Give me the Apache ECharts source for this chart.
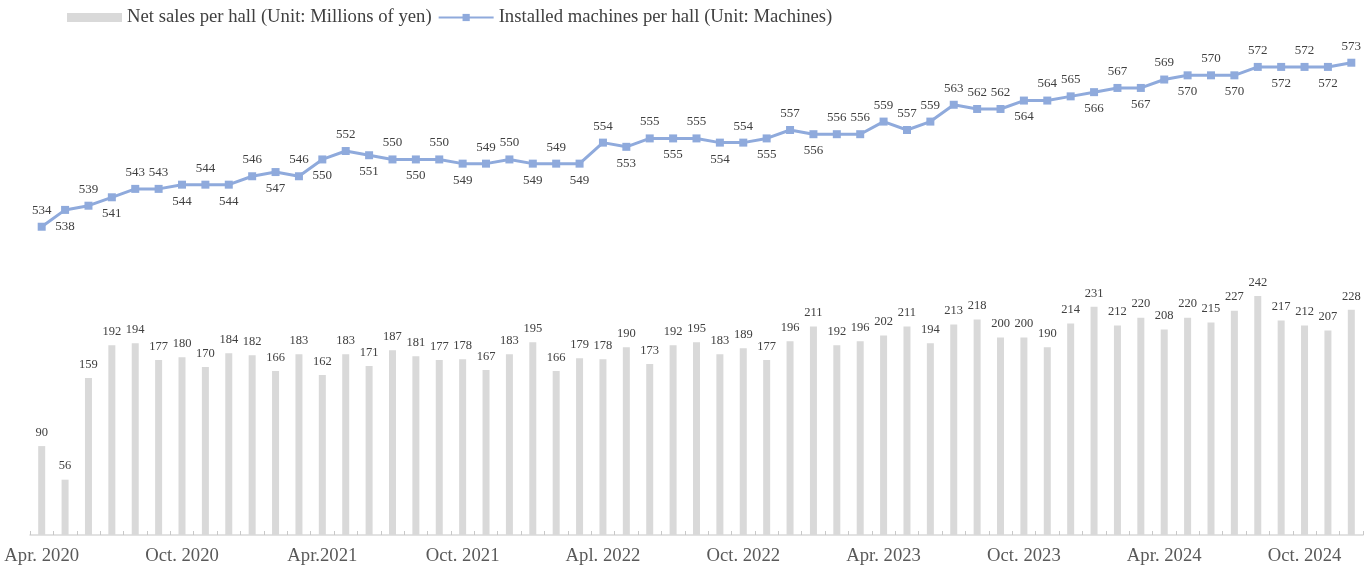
<!DOCTYPE html>
<html>
<head>
<meta charset="utf-8">
<script src="https://cdn.jsdelivr.net/npm/echarts@6/dist/echarts.min.js"></script>
<style>
html,body{margin:0;padding:0;background:#fff;}
#chart{width:1369px;height:577px;}
</style>
</head>
<body>
<div id="chart"></div>
<script>
const categories = [
 '2020-04','2020-05','2020-06','2020-07','2020-08','2020-09','2020-10','2020-11','2020-12',
 '2021-01','2021-02','2021-03','2021-04','2021-05','2021-06','2021-07','2021-08','2021-09','2021-10','2021-11','2021-12',
 '2022-01','2022-02','2022-03','2022-04','2022-05','2022-06','2022-07','2022-08','2022-09','2022-10','2022-11','2022-12',
 '2023-01','2023-02','2023-03','2023-04','2023-05','2023-06','2023-07','2023-08','2023-09','2023-10','2023-11','2023-12',
 '2024-01','2024-02','2024-03','2024-04','2024-05','2024-06','2024-07','2024-08','2024-09','2024-10','2024-11','2024-12'
];
const tickLabels = ['Apr. 2020','Oct. 2020','Apr.2021','Oct. 2021','Apl. 2022','Oct. 2022','Apr. 2023','Oct. 2023','Apr. 2024','Oct. 2024'];
const netSales = [90,56,159,192,194,177,180,170,184,182,166,183,162,183,171,187,181,177,178,167,183,195,166,179,178,190,173,192,195,183,189,177,196,211,192,196,202,211,194,213,218,200,200,190,214,231,212,220,208,220,215,227,242,217,212,207,228];
const machines = [534,538,539,541,543,543,544,544,544,546,547,546,550,552,551,550,550,550,549,549,550,549,549,549,554,553,555,555,555,554,554,555,557,556,556,556,559,557,559,563,562,562,564,564,565,566,567,567,569,570,570,570,572,572,572,572,573];
const seriesNames = ['Net sales per hall (Unit: Millions of yen)','Installed machines per hall (Unit: Machines)'];
// label placement for the line labels (T = above, B = below)
const linePlacement = 'TBTBTTBTBTBTBTBTBTBTTBTBTBTBTBTBTBTTTTTTTTBTTBTBTBTBTBTBT';

const serif = 'Liberation Serif, Times New Roman, serif';
const chart = echarts.init(document.getElementById('chart'));
chart.setOption({
  animation: false,
  textStyle: {fontFamily: serif},
  legend: {
    left: 62, top: 3,
    itemWidth: 55, itemHeight: 9, itemGap: 6,
    textStyle: {fontFamily: serif, fontSize: 18.7, color: '#404040'},
    data: [
      {name: seriesNames[0], icon: 'rect'},
      {name: seriesNames[1]}
    ]
  },
  grid: {left: 30, right: 6, top: 40, bottom: 42},
  xAxis: {
    type: 'category',
    data: categories,
    boundaryGap: true,
    axisLine: {lineStyle: {color: '#d9d9d9', width: 1.5}},
    axisTick: {show: true, inside: true, length: 4, interval: 0, lineStyle: {color: '#c8c8c8'}},
    axisLabel: {
      interval: 0, margin: 12,
      fontFamily: serif, fontSize: 18.7, color: '#595959',
      formatter: function (v, i) { return i % 6 === 0 ? tickLabels[i / 6] : ''; }
    }
  },
  yAxis: [
    {type: 'value', min: 0, max: 501, show: false, splitLine: {show: false}},
    {type: 'value', min: 460.7, max: 578.4, show: false, splitLine: {show: false}}
  ],
  series: [
    {
      name: seriesNames[0], type: 'bar', yAxisIndex: 0,
      data: netSales, barWidth: 7,
      itemStyle: {color: '#d9d9d9'},
      label: {show: true, position: 'top', distance: 7, fontFamily: serif, fontSize: 12.5, color: '#404040'}
    },
    {
      name: seriesNames[1], type: 'line', yAxisIndex: 1,
      data: machines.map(function (v, i) {
        return {value: v, label: {position: linePlacement[i] === 'T' ? 'top' : 'bottom'}};
      }),
      symbol: 'rect', symbolSize: 8,
      lineStyle: {color: '#8faadc', width: 3},
      itemStyle: {color: '#8faadc'},
      z: 5,
      label: {show: true, distance: 6, fontFamily: serif, fontSize: 13, color: '#404040'}
    }
  ]
});
</script>
</body>
</html>
